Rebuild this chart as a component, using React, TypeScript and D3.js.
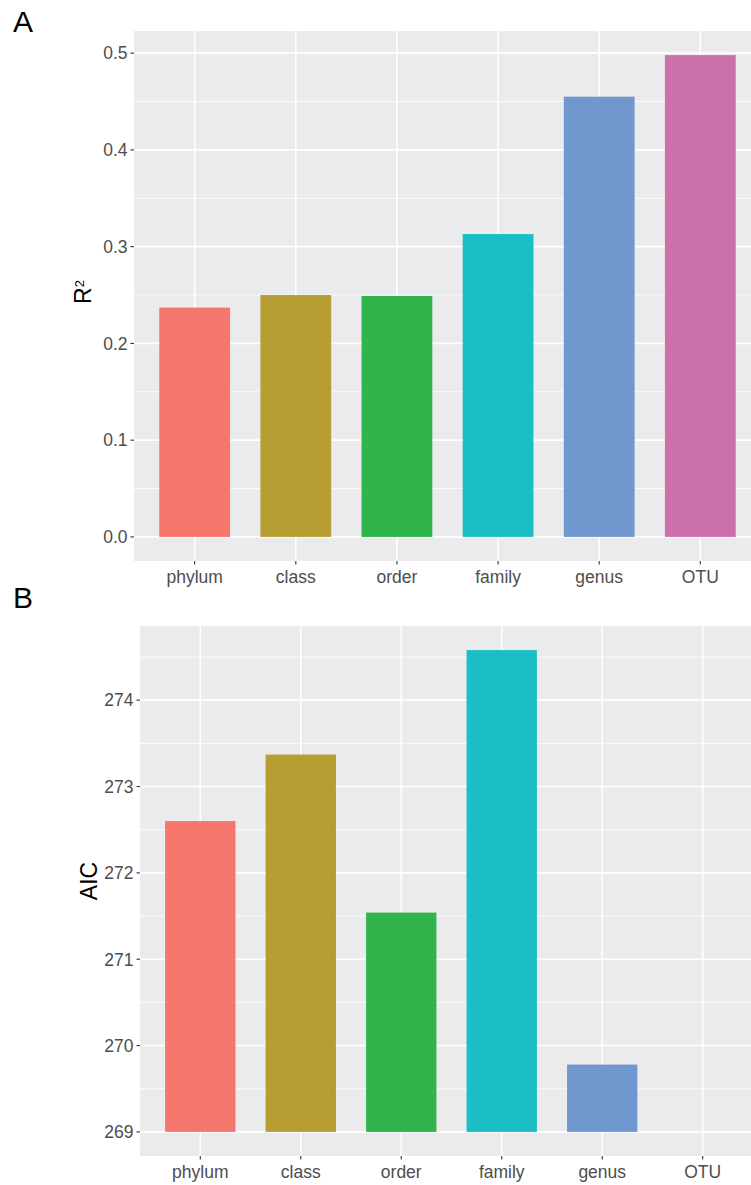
import React from "react";
import * as d3 from "d3";

// taxonomic levels and fitted model stats
const levels = ["phylum", "class", "order", "family", "genus", "OTU"];
const r2Values = [0.237, 0.25, 0.249, 0.313, 0.455, 0.498];
const aicValues = [272.6, 273.37, 271.54, 274.58, 269.78, 269.0];
const r2Ticks = [0, 0.1, 0.2, 0.3, 0.4, 0.5];
const aicTicks = [269, 270, 271, 272, 273, 274];
const barColors = ["#F4766D", "#B79E32", "#30B44B", "#1BBEC4", "#7197CF", "#CC70AC"];

const W = 751;
const H = 1185;
const FONT = "'Liberation Sans', Arial, Helvetica, sans-serif";

type PanelProps = {
  values: number[];
  ticks: number[];
  fmt: (v: number) => string;
  left: number;
  right: number;
  top: number;
  bottom: number;
  base: number;
  tag: string;
  tagY: number;
  title: React.ReactNode;
  titleY: number;
};

function Panel({ values, ticks, fmt, left, right, top, bottom, base, tag, tagY, title, titleY }: PanelProps) {
  const lo = Math.min(base, d3.min(values)!);
  const hi = d3.max(values)!;
  const pad = (hi - lo) * 0.05;
  const y = d3.scaleLinear().domain([lo - pad, hi + pad]).range([bottom, top]);
  // ggplot: discrete expansion 0.6 of a band, bar width 0.7
  const x = d3.scalePoint().domain(levels).range([left, right]).padding(0.6);
  const bw = x.step() * 0.7;
  const step2 = ticks[1] - ticks[0];
  const minor = ticks.map(t => t + step2 / 2).concat([ticks[0] - step2 / 2])
    .filter(t => y(t) >= top && y(t) <= bottom);

  return (
    <g>
      <rect x={left} y={top} width={right - left} height={bottom - top} fill="#EBEBED" />
      {minor.map(t => (
        <line key={"m" + t} x1={left} x2={right} y1={y(t)} y2={y(t)} stroke="#fff" strokeWidth={0.8} />
      ))}
      {ticks.map(t => (
        <line key={"g" + t} x1={left} x2={right} y1={y(t)} y2={y(t)} stroke="#fff" strokeWidth={1.6} />
      ))}
      {levels.map(l => (
        <line key={"v" + l} x1={x(l)} x2={x(l)} y1={top} y2={bottom} stroke="#fff" strokeWidth={1.6} />
      ))}
      {values.map((v, i) => {
        const y0 = y(base);
        const y1 = y(v);
        const h = Math.abs(y0 - y1);
        return (
          <rect key={levels[i]} x={x(levels[i])! - bw / 2} y={Math.min(y0, y1)} width={bw} height={h}
            fill={barColors[i]} stroke={h < 1 ? barColors[i] : "none"} strokeOpacity={0.15} strokeWidth={1} />
        );
      })}
      {ticks.map(t => (
        <g key={"t" + t}>
          <line x1={left - 3.5} x2={left} y1={y(t)} y2={y(t)} stroke="#333" strokeWidth={1.1} />
          <text x={left - 6.5} y={y(t)} dy="0.36em" textAnchor="end" fontSize={17.5} fill="#4D4D4D" fontFamily={FONT}>
            {fmt(t)}
          </text>
        </g>
      ))}
      {levels.map(l => (
        <g key={"x" + l}>
          <line x1={x(l)} x2={x(l)} y1={bottom} y2={bottom + 3.5} stroke="#333" strokeWidth={1.1} />
          <text x={x(l)} y={bottom + 21.5} textAnchor="middle" fontSize={17.5} fill="#4D4D4D" fontFamily={FONT}>
            {l}
          </text>
        </g>
      ))}
      <text x={13} y={tagY} fontSize={30} fill="#000" fontFamily={FONT}>{tag}</text>
      <text transform={`translate(${left - 43},${titleY}) rotate(-90)`} textAnchor="middle" fontSize={23}
        fill="#000" fontFamily={FONT}>
        {title}
      </text>
    </g>
  );
}

export default function App() {
  return (
    <div style={{ position: "absolute", left: 0, top: 0 }}>
      <svg width={W} height={H} style={{ display: "block", background: "#fff" }}>
        <Panel values={r2Values} ticks={r2Ticks} fmt={d3.format(".1f")} left={134} right={761} top={31} bottom={561}
          base={0} tag="A" tagY={32} titleY={292}
          title={<>R<tspan dy="-0.55em" fontSize={13}>2</tspan></>} />
        <Panel values={aicValues} ticks={aicTicks} fmt={d3.format("d")} left={140} right={763} top={626} bottom={1156}
          base={d3.min(aicValues)!} tag="B" tagY={608} titleY={881} title="AIC" />
      </svg>
    </div>
  );
}
